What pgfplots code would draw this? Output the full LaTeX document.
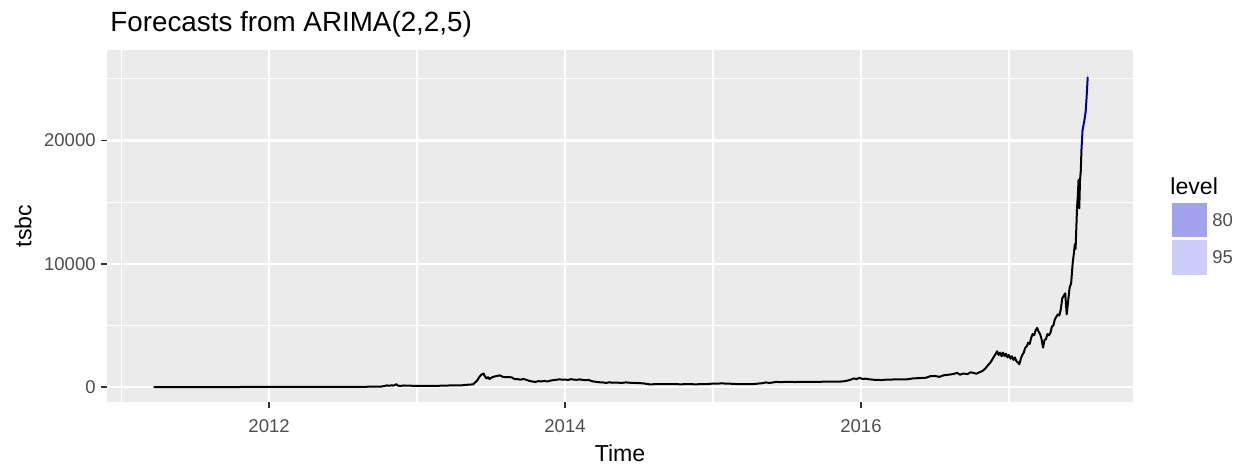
\documentclass[border=0pt]{standalone}
\usepackage{fontspec}
\setmainfont{Liberation Sans}
\usepackage{pgfplots}
\pgfplotsset{compat=1.18}
\definecolor{panel}{RGB}{235,235,235}
\definecolor{ticklab}{RGB}{77,77,77}
\definecolor{tickcol}{RGB}{51,51,51}
\definecolor{fc}{RGB}{0,0,170}
\definecolor{lev80}{RGB}{162,162,238}
\definecolor{lev95}{RGB}{205,205,250}
\begin{document}
\begin{tikzpicture}
\path[use as bounding box] (0,0) rectangle (625pt,235pt);
\begin{axis}[
  at={(53.5pt,34pt)}, anchor=south west,
  width=513pt, height=176pt, scale only axis,
  xmin=2010.905, xmax=2017.838,
  ymin=-1210, ymax=27340,
  axis line style={draw=none},
  axis background/.style={fill=panel},
  xtick={2012,2014,2016}, ytick={0,10000,20000},
  minor xtick={2011,2013,2015,2017}, minor ytick={5000,15000,25000},
  grid=both,
  major grid style={white, line width=1.1pt},
  minor grid style={white, line width=0.55pt},
  tick align=outside, xtick pos=bottom, ytick pos=left,
  major tick length=3pt, minor tick length=0pt,
  major tick style={tickcol, line width=0.8pt},
  scaled ticks=false,
  /pgf/number format/assume math mode=true,
  /pgf/number format/1000 sep={},
  tick label style={font=\fontsize{9.25}{11}\selectfont, text=ticklab, inner sep=0pt},
  yticklabel style={xshift=-2.5pt},
  xticklabel style={yshift=-5.5pt},
]
% 95% interval
\addplot[fill=lev95, draw=none] coordinates {
(2017.49,19300) (2017.497,21080) (2017.508,21900) (2017.518,22830) (2017.524,24010) (2017.532,25900)
(2017.532,24400) (2017.524,22790) (2017.518,21830) (2017.508,21140) (2017.497,20620) (2017.49,19300)} -- cycle;
% 80% interval
\addplot[fill=lev80, draw=none] coordinates {
(2017.49,19300) (2017.497,21000) (2017.508,21770) (2017.518,22660) (2017.524,23800) (2017.532,25640)
(2017.532,24660) (2017.524,23000) (2017.518,22000) (2017.508,21270) (2017.497,20700) (2017.49,19300)} -- cycle;
% observed series
\addplot[black, line width=1pt, line join=round] coordinates {
(2011.22,5) (2011.30,4) (2011.40,3) (2011.50,3) (2011.60,5) (2011.70,5) (2011.80,6) (2011.90,7)
(2012.00,10) (2012.10,11) (2012.20,11) (2012.30,12) (2012.40,13) (2012.50,13) (2012.60,20) (2012.70,30) (2012.76,45)
(2012.78,90) (2012.80,140) (2012.81,100) (2012.83,150) (2012.84,110) (2012.86,230) (2012.87,120) (2012.89,90)
(2012.91,130) (2012.93,110) (2012.95,120) (2012.97,100) (2013.00,95) (2013.05,100) (2013.10,98) (2013.15,105)
(2013.17,120) (2013.20,125) (2013.25,135) (2013.30,140) (2013.33,180) (2013.36,200) (2013.38,230)
(2013.39,350) (2013.40,450) (2013.41,600) (2013.42,800) (2013.43,950) (2013.44,1050) (2013.45,1100)
(2013.455,950) (2013.46,850) (2013.47,700) (2013.48,800) (2013.49,650) (2013.50,750) (2013.52,850)
(2013.54,900) (2013.56,950) (2013.58,830) (2013.60,800) (2013.62,820) (2013.64,780) (2013.66,650)
(2013.68,640) (2013.70,600) (2013.72,660) (2013.74,580) (2013.76,500) (2013.78,450) (2013.80,420)
(2013.82,480) (2013.84,460) (2013.86,500) (2013.88,450) (2013.90,520) (2013.92,560) (2013.94,590)
(2013.96,630) (2013.98,600) (2014.00,610) (2014.02,580) (2014.04,640) (2014.06,600) (2014.08,590)
(2014.10,620) (2014.12,580) (2014.14,560) (2014.16,580) (2014.18,480) (2014.20,440) (2014.22,400)
(2014.25,380) (2014.28,340) (2014.30,390) (2014.32,350) (2014.35,370) (2014.38,330) (2014.41,380)
(2014.44,350) (2014.47,340) (2014.50,320) (2014.53,300) (2014.55,260) (2014.57,220) (2014.60,230)
(2014.63,250) (2014.66,240) (2014.69,230) (2014.72,250) (2014.75,235) (2014.78,225) (2014.80,230)
(2014.83,240) (2014.86,230) (2014.89,225) (2014.92,240) (2014.95,235) (2014.98,260) (2015.00,290)
(2015.03,280) (2015.06,300) (2015.09,280) (2015.12,270) (2015.15,250) (2015.17,230) (2015.20,240)
(2015.23,230) (2015.26,240) (2015.29,260) (2015.31,290) (2015.33,310) (2015.36,380) (2015.38,330)
(2015.40,370) (2015.43,420) (2015.46,400) (2015.50,430) (2015.55,410) (2015.60,420) (2015.65,430)
(2015.70,415) (2015.75,440) (2015.80,450) (2015.85,445) (2015.88,460) (2015.91,530) (2015.93,600)
(2015.95,700) (2015.97,650) (2015.99,750) (2016.01,660) (2016.03,680) (2016.05,640) (2016.08,600)
(2016.11,580) (2016.14,570) (2016.17,600) (2016.20,610) (2016.23,620) (2016.26,630) (2016.29,620)
(2016.32,640) (2016.35,700) (2016.38,720) (2016.41,740) (2016.44,760) (2016.47,890) (2016.50,900)
(2016.53,830) (2016.56,960) (2016.59,1000) (2016.62,1050) (2016.65,1150) (2016.67,1000) (2016.69,1100)
(2016.72,1050) (2016.74,1200) (2016.76,1150) (2016.78,1080) (2016.80,1200) (2016.82,1300) (2016.84,1500)
(2016.86,1800) (2016.875,2000) (2016.89,2300) (2016.90,2500) (2016.91,2700) (2016.92,2900) (2016.93,2600)
(2016.94,2800) (2016.95,2500) (2016.96,2800) (2016.97,2500) (2016.98,2700) (2016.99,2400) (2017.00,2600)
(2017.01,2300) (2017.02,2500) (2017.03,2200) (2017.04,2400) (2017.05,2100) (2017.06,2000) (2017.07,1850)
(2017.08,2300) (2017.09,2600) (2017.10,2800) (2017.11,3200) (2017.12,3300) (2017.13,3600) (2017.14,3500)
(2017.15,4000) (2017.16,4300) (2017.17,4200) (2017.18,4600) (2017.19,4800) (2017.20,4500) (2017.21,4300)
(2017.22,3900) (2017.23,3200) (2017.24,3800) (2017.25,3900) (2017.26,4300) (2017.27,4200) (2017.28,4400)
(2017.29,4900) (2017.30,5000) (2017.31,5500) (2017.32,5700) (2017.33,5900) (2017.34,5800) (2017.35,6300)
(2017.36,7200) (2017.37,7400) (2017.38,7600) (2017.39,5900) (2017.40,7000) (2017.41,8100) (2017.42,8400)
(2017.43,10000) (2017.44,11000) (2017.445,11600) (2017.45,11200) (2017.46,14600) (2017.465,15500)
(2017.47,16800) (2017.475,14500) (2017.48,16800) (2017.485,17500) (2017.49,19300)};
% point forecast
\addplot[fc, line width=1pt, line join=round] coordinates {
(2017.49,19300) (2017.497,20850) (2017.508,21520) (2017.518,22330) (2017.524,23400) (2017.532,25150)};
\end{axis}
% title and axis titles
\node[anchor=base west, font=\fontsize{13.9}{16}\selectfont, inner sep=0pt] at (55pt,219pt) {Forecasts from ARIMA(2,2,5)};
\node[font=\fontsize{11.55}{13}\selectfont, inner sep=0pt] at (310pt,8.5pt) {Time};
\node[font=\fontsize{11.55}{13}\selectfont, inner sep=0pt, rotate=90] at (11.5pt,122pt) {tsbc};
% legend
\node[anchor=base west, font=\fontsize{11.55}{13}\selectfont, inner sep=0pt] at (585pt,137.5pt) {level};
\fill[lev80] (586pt,116.5pt) rectangle (603.5pt,133.5pt);
\fill[lev95] (586pt,97.5pt) rectangle (603.5pt,115pt);
\node[anchor=west, font=\fontsize{9.25}{11}\selectfont, text=ticklab, inner sep=0pt] at (606pt,125pt) {80};
\node[anchor=west, font=\fontsize{9.25}{11}\selectfont, text=ticklab, inner sep=0pt] at (606pt,106.25pt) {95};
\end{tikzpicture}
\end{document}
